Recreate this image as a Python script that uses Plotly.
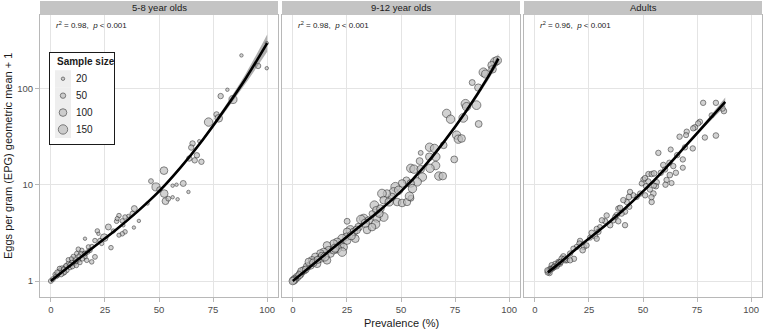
import plotly.graph_objects as go

FONT = "Liberation Sans, Arial, Helvetica, sans-serif"

# ---------------- data ----------------
panel_titles = ["5-8 year olds", "9-12 year olds", "Adults"]
r2_values = ["0.98", "0.98", "0.96"]
p_value = "0.001"
x_ticks = [0, 25, 50, 75, 100]
y_ticks = [1, 10, 100]
legend_sizes = [20, 50, 100, 150]
x_title = "Prevalence (%)"
y_title = "Eggs per gram (EPG) geometric mean + 1"

# 5-8 year olds
p1_prev = [38.6, 40.7, 37.7, 35.8, 34.3, 33.0, 31.5, 30.4, 30.7, 33.5,
           34.3, 33.0, 31.5, 38.4, 26.6, 24.7, 27.8, 28.9, 21.5, 22.0,
           20.4, 22.7, 23.5, 15.8, 20.4, 17.4, 18.1, 14.3, 12.7, 12.0,
           14.0, 15.8, 16.6, 11.2, 9.7, 8.1, 10.9, 6.6, 8.9, 5.1,
           4.3, 3.2, 2.0, 5.8, 7.4, 12.7, 14.6, 8.1, 10.4, 15.5,
           18.9, 44.7, 1.0, 2.5, 3.8, 4.8, 6.0, 7.0, 9.0, 10.0,
           11.5, 13.0, 9.5, 6.5, 4.0, 3.0, 11.8, 13.5, 16.0, 17.0,
           19.0, 0.0,
           88.1, 95.8, 99.8, 99.8, 81.6, 78.5, 84.2, 76.6, 77.6, 72.9,
           68.6, 65.5, 64.9, 67.5, 64.0, 66.5, 69.6, 61.2, 58.1, 56.3,
           63.6, 52.3, 48.6, 46.3, 50.2, 52.4, 53.0, 54.3, 56.3, 58.6]
p1_epg = [5.65, 4.21, 5.01, 4.74, 4.62, 4.21, 4.78, 4.17, 4.45, 3.79,
          3.24, 3.09, 2.99, 3.59, 3.64, 2.82, 2.22, 3.31, 3.31, 3.09,
          2.63, 2.63, 2.45, 2.75, 1.78, 2.26, 2.08, 2.08, 2.14, 1.93,
          1.91, 1.78, 1.64, 1.70, 1.57, 1.51, 1.51, 1.40, 1.38, 1.34,
          1.28, 1.15, 1.17, 1.21, 1.29, 1.64, 1.70, 1.66, 1.80, 1.93,
          1.58, 6.38, 1.05, 1.12, 1.23, 1.17, 1.32, 1.45, 1.48, 1.41,
          1.58, 1.82, 1.70, 1.23, 1.35, 1.23, 1.45, 1.55, 1.91, 2.00,
          2.29, 1.00,
          220, 171, 162, 295, 96.8, 83.2, 76.7, 53.7, 48.9, 44.7,
          28.3, 26.8, 24.3, 20.2, 18.7, 17.9, 17.3, 10.3, 10.0, 9.77,
          8.41, 14.0, 9.48, 10.9, 8.91, 8.09, 6.75, 7.16, 7.41, 7.06]
p1_n = [60, 20, 40, 20, 35, 35, 35, 35, 30, 20,
        35, 35, 30, 20, 60, 100, 35, 30, 35, 20,
        35, 35, 30, 20, 40, 35, 35, 35, 35, 35,
        40, 35, 35, 35, 35, 40, 35, 35, 35, 60,
        40, 40, 35, 40, 35, 35, 35, 35, 35, 35,
        35, 20, 40, 40, 50, 40, 40, 30, 40, 35,
        35, 30, 30, 30, 35, 45, 35, 30, 30, 35,
        30, 40,
        20, 50, 20, 20, 20, 50, 110, 50, 100, 120,
        20, 50, 50, 50, 50, 50, 50, 60, 20, 20,
        20, 100, 110, 40, 50, 100, 80, 40, 20, 20]

# 9-12 year olds
p2_prev = [52.5, 50.5, 47.4, 46.6, 48.9, 45.8, 43.5, 41.2, 42.0, 48.2,
           50.5, 52.8, 54.6, 37.7, 38.6, 40.5, 36.6, 42.0, 38.9, 38.2,
           32.8, 31.5, 35.1, 25.1, 34.3, 30.4, 26.6, 28.2, 25.1, 28.9,
           24.8, 22.8, 20.5, 18.9, 22.0, 23.5, 20.5, 15.8, 16.6, 22.8,
           14.3, 12.8, 17.4, 10.4, 12.8, 8.9, 11.2, 8.1, 6.6, 5.1,
           3.5, 2.0, 7.4, 15.8, 18.9, 25.1, 36.6, 1.0, 4.0, 6.0,
           9.5, 13.5, 11.5, 0.5, 3.0, 14.8, 19.5, 27.0, 29.5, 33.5,
           44.5, 40.0, 0.0,
           93.4, 91.9, 88.1, 89.1, 82.9, 85.7, 84.9, 79.8, 80.3, 78.8,
           85.9, 71.1, 72.9, 75.7, 76.5, 78.0, 63.2, 65.5, 69.7, 59.1,
           66.1, 63.1, 74.6, 58.6, 66.0, 63.4, 67.5, 54.5, 56.0, 59.1,
           59.9, 57.5, 54.5, 55.3, 53.9, 69.3, 92.3, 94.5]
p2_epg = [11.1, 10.3, 9.48, 8.41, 8.77, 7.46, 8.09, 8.09, 6.92, 6.61,
          6.46, 6.61, 7.24, 6.12, 5.43, 5.65, 5.01, 4.62, 4.45, 3.89,
          4.45, 4.35, 4.25, 4.17, 3.39, 3.63, 3.39, 3.24, 3.24, 2.75,
          2.88, 2.75, 2.55, 2.45, 2.34, 2.25, 2.17, 2.34, 2.09, 2.00,
          2.00, 1.93, 1.93, 1.78, 1.71, 1.64, 1.51, 1.45, 1.41, 1.29,
          1.19, 1.10, 1.58, 1.64, 2.09, 2.63, 3.63, 1.05, 1.26, 1.32,
          1.55, 1.82, 1.66, 1.02, 1.15, 1.78, 2.19, 2.95, 3.39, 3.98,
          6.61, 5.01, 1.00,
          189, 174, 147, 141, 115, 102, 67.0, 69.2, 64.6, 49.4,
          42.7, 55.0, 47.9, 32.7, 29.7, 30.2, 24.5, 23.8, 25.7, 21.4,
          19.5, 19.5, 18.3, 17.6, 15.8, 14.8, 12.3, 14.8, 14.5, 14.5,
          12.0, 10.7, 10.3, 9.12, 7.59, 12.3, 158, 195]
p2_n = [80, 100, 140, 130, 120, 100, 100, 130, 100, 100,
        100, 90, 60, 130, 100, 100, 60, 130, 100, 130,
        130, 130, 100, 60, 100, 100, 130, 100, 100, 100,
        100, 130, 100, 100, 100, 100, 130, 100, 100, 130,
        100, 100, 100, 100, 100, 100, 100, 100, 100, 100,
        100, 100, 100, 100, 100, 100, 100, 100, 100, 80,
        100, 100, 90, 100, 90, 120, 110, 110, 100, 110,
        110, 100, 100,
        130, 100, 130, 110, 60, 90, 130, 130, 120, 130,
        80, 120, 120, 120, 120, 100, 120, 120, 80, 40,
        120, 100, 80, 80, 120, 120, 120, 120, 120, 100,
        120, 120, 100, 120, 120, 100, 100, 120]

# Adults
p3_prev = [52.5, 54.0, 55.1, 50.2, 49.4, 51.4, 53.2, 54.8, 54.0, 51.0,
           48.7, 47.1, 45.5, 44.0, 43.5, 42.5, 40.9, 43.7, 41.7, 40.1,
           38.6, 37.8, 39.4, 37.1, 36.3, 41.7, 38.6, 34.8, 32.5, 31.0,
           30.1, 33.2, 28.6, 29.4, 26.3, 27.9, 28.6, 25.5, 20.9, 20.6,
           22.7, 22.1, 23.9, 19.4, 17.8, 18.1, 16.3, 14.8, 13.2, 12.4,
           10.9, 9.4, 7.8, 7.1, 6.3, 8.6, 10.1, 11.7, 14.0, 16.3,
           6.8, 6.0, 7.5, 8.2, 9.0, 11.2, 12.0, 13.7, 5.8, 10.5,
           77.8, 83.7, 87.4, 86.8, 81.7, 76.3, 75.5, 74.0, 73.2, 70.2,
           69.9, 66.9, 78.6, 83.7, 69.4, 73.0, 62.8, 57.1, 65.8, 68.4,
           59.4, 62.2, 64.0, 68.4, 60.2, 65.2, 62.4, 60.9, 60.4, 63.2,
           58.2, 50.9, 56.3, 56.0, 52.5, 55.1, 53.9]
p3_epg = [12.9, 12.9, 13.1, 11.3, 10.3, 9.66, 8.91, 8.09, 6.61, 7.76,
          8.09, 7.46, 7.76, 8.41, 7.46, 6.61, 6.92, 5.89, 5.25, 5.01,
          5.65, 4.82, 5.75, 4.62, 4.27, 3.80, 4.17, 3.80, 4.17, 4.27,
          3.63, 4.79, 3.47, 3.24, 3.16, 2.92, 2.75, 2.82, 2.61, 2.45,
          2.26, 2.09, 2.34, 2.26, 2.17, 1.70, 1.93, 1.64, 1.80, 1.71,
          1.58, 1.51, 1.46, 1.34, 1.27, 1.38, 1.42, 1.51, 1.64, 1.64,
          1.21, 1.23, 1.32, 1.35, 1.41, 1.55, 1.58, 1.70, 1.29, 1.48,
          70.8, 70.8, 58.2, 61.7, 52.5, 45.0, 43.3, 39.4, 38.5, 35.5,
          32.7, 31.5, 30.9, 32.4, 24.4, 23.8, 23.2, 21.4, 20.3, 18.3,
          16.0, 16.9, 15.6, 15.0, 14.4, 13.3, 12.6, 11.2, 10.0, 10.4,
          13.3, 11.7, 10.6, 9.62, 10.8, 9.77, 7.41]
p3_n = [50, 50, 55, 50, 45, 50, 50, 55, 50, 50,
        50, 45, 50, 50, 55, 50, 50, 45, 50, 50,
        50, 55, 50, 45, 50, 50, 50, 55, 50, 50,
        45, 50, 50, 50, 55, 50, 50, 45, 50, 50,
        50, 55, 50, 50, 45, 50, 50, 50, 55, 50,
        50, 45, 50, 50, 55, 50, 50, 45, 50, 50,
        50, 55, 50, 45, 50, 50, 50, 55, 50, 45,
        50, 50, 55, 50, 45, 50, 50, 55, 50, 50,
        45, 50, 50, 55, 50, 50, 45, 50, 50, 50,
        55, 50, 50, 45, 50, 50, 55, 50, 50, 45,
        50, 50, 55, 50, 50, 45, 50]

# fitted curves with confidence band
fit1_prev = [0, 10, 20, 30, 40, 50, 60, 70, 80, 90, 100]
fit1_epg = [1.0, 1.51, 2.27, 3.39, 5.25, 8.51, 15.1, 28.8, 58.9, 126, 295]
fit1_lo = [0.955, 1.472, 2.213, 3.311, 5.129, 8.279, 14.62, 27.54, 54.95, 112.2, 239.9]
fit1_hi = [1.047, 1.556, 2.317, 3.467, 5.370, 8.750, 15.67, 30.20, 63.10, 141.3, 363.1]

fit2_prev = [0, 10, 20, 30, 40, 50, 60, 70, 80, 90, 95]
fit2_epg = [1.0, 1.531, 2.344, 3.548, 5.370, 8.511, 14.79, 28.18, 57.54, 128.8, 204.2]
fit2_lo = [0.966, 1.496, 2.301, 3.483, 5.272, 8.318, 14.39, 27.23, 54.95, 118.9, 182.0]
fit2_hi = [1.035, 1.567, 2.388, 3.614, 5.470, 8.710, 15.21, 29.17, 60.26, 139.6, 229.1]

fit3_prev = [6, 10, 20, 30, 40, 50, 60, 70, 80, 88]
fit3_epg = [1.230, 1.445, 2.239, 3.388, 5.248, 8.511, 14.45, 25.70, 45.71, 72.44]
fit3_lo = [1.148, 1.380, 2.178, 3.311, 5.129, 8.318, 14.06, 24.83, 43.15, 65.31]
fit3_hi = [1.318, 1.514, 2.301, 3.467, 5.370, 8.710, 14.86, 26.61, 48.42, 80.35]

panels = [
    (p1_prev, p1_epg, p1_n, fit1_prev, fit1_epg, fit1_lo, fit1_hi),
    (p2_prev, p2_epg, p2_n, fit2_prev, fit2_epg, fit2_lo, fit2_hi),
    (p3_prev, p3_epg, p3_n, fit3_prev, fit3_epg, fit3_lo, fit3_hi),
]

# ---------------- layout geometry ----------------
W, H = 763, 330
ML, MR, MT, MB = 40, 1, 15, 33
PW = W - ML - MR
PH = H - MT - MB


def fx(p):
    return (p - ML) / PW


def fy(p):
    return (H - MB - p) / PH


domains = [[fx(40), fx(278)], [fx(282), fx(520)], [fx(524), fx(762)]]
Y_RANGE = [-0.166, 2.762]
SIZEREF = 3.4
PT_FILL = "#bfbfbf"
PT_LINE = "#262626"
BORDER = "#b8b8b8"
GRID = "#e4e4e4"

fig = go.Figure()
layout = dict(
    width=W, height=H,
    margin=dict(l=ML, r=MR, t=MT, b=MB, pad=0),
    paper_bgcolor="white", plot_bgcolor="white",
    showlegend=False,
    font=dict(family=FONT, color="#1a1a1a"),
    shapes=[], annotations=[],
)

for i, (px_, py_, pn, fxs, fys, flo, fhi) in enumerate(panels):
    s = "" if i == 0 else str(i + 1)
    xa, ya = "x" + s, "y" + s
    fig.add_trace(go.Scatter(
        x=px_, y=py_, mode="markers", xaxis=xa, yaxis=ya,
        marker=dict(size=pn, sizemode="area", sizeref=SIZEREF,
                    color=PT_FILL, line=dict(color=PT_LINE, width=0.8)),
        hoverinfo="skip"))
    fig.add_trace(go.Scatter(
        x=fxs, y=flo, mode="lines", xaxis=xa, yaxis=ya,
        line=dict(width=0, shape="spline"), hoverinfo="skip"))
    fig.add_trace(go.Scatter(
        x=fxs, y=fhi, mode="lines", xaxis=xa, yaxis=ya, fill="tonexty",
        fillcolor="rgba(110,110,110,0.55)",
        line=dict(width=0, shape="spline"), hoverinfo="skip"))
    fig.add_trace(go.Scatter(
        x=fxs, y=fys, mode="lines", xaxis=xa, yaxis=ya,
        line=dict(color="black", width=2.6, shape="spline"), hoverinfo="skip"))

    layout["xaxis" + s] = dict(
        domain=domains[i], anchor=ya, range=[-5, 105],
        tickvals=x_ticks, ticktext=[str(t) for t in x_ticks],
        showgrid=True, gridcolor=GRID, gridwidth=1, zeroline=False,
        showline=True, mirror=True, linecolor=BORDER, linewidth=1,
        ticks="outside", ticklen=4, tickcolor=BORDER, tickwidth=1,
        tickfont=dict(size=9.5, color="#4d4d4d", family=FONT))
    layout["yaxis" + s] = dict(
        domain=[0, 1], anchor=xa, type="log", range=Y_RANGE,
        tickvals=y_ticks, ticktext=[str(t) for t in y_ticks],
        showticklabels=(i == 0),
        showgrid=True, gridcolor=GRID, gridwidth=1, zeroline=False,
        showline=True, mirror=True, linecolor=BORDER, linewidth=1,
        ticks="outside" if i == 0 else "", ticklen=4, tickcolor=BORDER, tickwidth=1,
        tickfont=dict(size=9.5, color="#4d4d4d", family=FONT))

    # strip
    layout["shapes"].append(dict(
        type="rect", xref="paper", yref="paper",
        x0=domains[i][0], x1=domains[i][1], y0=1.0, y1=fy(1),
        fillcolor="#c4c4c4", line=dict(width=0), layer="above"))
    layout["annotations"].append(dict(
        xref="paper", yref="paper", x=(domains[i][0] + domains[i][1]) / 2, y=fy(8),
        text=panel_titles[i], showarrow=False, xanchor="center", yanchor="middle",
        font=dict(size=9.5, color="#1a1a1a", family=FONT)))
    # r^2 annotation
    layout["annotations"].append(dict(
        xref=xa + " domain", yref="paper", x=14 / 238, y=fy(25),
        text="<i>r</i><sup>2</sup> = " + r2_values[i] + ",  <i>p</i> &lt; " + p_value,
        showarrow=False, xanchor="left", yanchor="middle",
        font=dict(size=8, color="#1a1a1a", family=FONT)))

# ---------------- size legend (own small subplot) ----------------
legend_labels = [str(v) for v in legend_sizes]
layout["xaxis4"] = dict(domain=[fx(50), fx(114)], anchor="y4", range=[-13, 51],
                        showgrid=False, zeroline=False, showticklabels=False, ticks="",
                        showline=True, mirror=True, linecolor="#1a1a1a", linewidth=1)
layout["yaxis4"] = dict(domain=[fy(144), fy(52.7)], anchor="x4", type="category",
                        categoryorder="array", categoryarray=legend_labels,
                        range=[3.86, -1.54],
                        showgrid=False, zeroline=False, showticklabels=False, ticks="",
                        showline=True, mirror=True, linecolor="#1a1a1a", linewidth=1)
for k, lab in enumerate(legend_labels):
    layout["shapes"].append(dict(
        type="rect", xref="x4", yref="y4", x0=-8, x1=8, y0=k - 0.5, y1=k + 0.5,
        fillcolor="#eeeeee", line=dict(width=0), layer="below"))
    layout["annotations"].append(dict(
        xref="x4", yref="y4", x=11, y=k, text=lab, showarrow=False,
        xanchor="left", yanchor="middle", font=dict(size=10, color="#1a1a1a", family=FONT)))
fig.add_trace(go.Scatter(
    x=[0] * len(legend_sizes), y=legend_labels, mode="markers", xaxis="x4", yaxis="y4",
    marker=dict(size=legend_sizes, sizemode="area", sizeref=SIZEREF,
                color=PT_FILL, line=dict(color=PT_LINE, width=0.8)),
    hoverinfo="skip"))
layout["annotations"].append(dict(
    xref="x4", yref="y4", x=-8, y=-0.99, text="<b>Sample size</b>", showarrow=False,
    xanchor="left", yanchor="middle", font=dict(size=10, color="#1a1a1a", family=FONT)))

# axis titles
layout["annotations"].append(dict(
    xref="paper", yref="paper", x=(domains[1][0] + domains[1][1]) / 2, y=fy(323),
    text=x_title, showarrow=False, xanchor="center", yanchor="middle",
    font=dict(size=11, color="#1a1a1a", family=FONT)))
layout["annotations"].append(dict(
    xref="paper", yref="paper", x=fx(8), y=fy(156), text=y_title, textangle=-90,
    showarrow=False, xanchor="center", yanchor="middle",
    font=dict(size=11, color="#1a1a1a", family=FONT)))

fig.update_layout(**layout)
fig.write_html("out.html",
               config={"displayModeBar": False},
               post_script="document.body.style.margin='0';document.body.style.padding='0';")
